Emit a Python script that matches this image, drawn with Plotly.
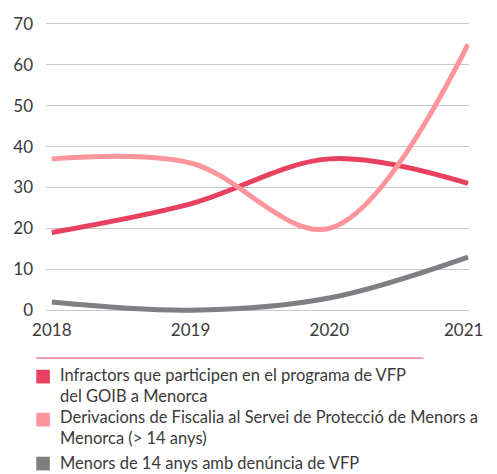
import plotly.graph_objects as go

years = [2018, 2019, 2020, 2021]
infractors = [19, 26, 37, 31]
derivacions = [37, 36, 20, 65]
menors = [2, 0, 3, 13]

series_names = [
    "Infractors que participen en el programa de VFP<br>del GOIB a Menorca",
    "Derivacions de Fiscalia al Servei de Protecció de Menors a<br>Menorca (> 14 anys)",
    "Menors de 14 anys amb denúncia de VFP",
]
series_values = [infractors, derivacions, menors]
colors = ["#E8405F", "#FE959C", "#7E7E83"]

y_ticks = [0, 10, 20, 30, 40, 50, 60, 70]
x_ticks = years
x_ticktext = ["2018", "2019", "2020", "2021&nbsp;&nbsp;"]

# page body has an 8px margin; figure is sized to fill the rest
OFF = 8
W, H = 497 - OFF, 474 - OFF
ML, MR, MT, MB = 38, 16, 5, 156
PW, PH = W - ML - MR, H - MT - MB

def px_x(px):
    return (px - OFF - ML) / PW

def px_y(py):
    return (H - MB - (py - OFF)) / PH

fig = go.Figure()
for name, vals, col in zip(series_names, series_values, colors):
    fig.add_trace(go.Scatter(
        x=years, y=vals, mode="lines", name=name.replace("<br>", " "),
        line=dict(color=col, width=5, shape="spline", smoothing=1.0),
        showlegend=False,
    ))

font_fam = "Lato, 'Open Sans', sans-serif"
text_col = "#3a3a3a"

shapes = [dict(type="line", xref="paper", yref="paper",
               x0=px_x(36), x1=px_x(434), y0=px_y(359), y1=px_y(359),
               line=dict(color="#E8405F", width=1))]
annotations = []
text_centers = [387, 430, 466]
sq_tops = [371, 415, 460]
for txt, col, c, st in zip(series_names, colors, text_centers, sq_tops):
    shapes.append(dict(type="rect", xref="paper", yref="paper",
                       x0=px_x(36), x1=px_x(50), y0=px_y(st), y1=px_y(st + 14),
                       fillcolor=col, line=dict(width=0)))
    annotations.append(dict(xref="paper", yref="paper", x=px_x(58), y=px_y(c),
                            xanchor="left", yanchor="middle", align="left",
                            text=txt, showarrow=False,
                            font=dict(family=font_fam, size=16.5, color=text_col)))

fig.update_layout(
    width=W, height=H,
    margin=dict(l=ML, r=MR, t=MT, b=MB),
    paper_bgcolor="white", plot_bgcolor="white",
    font=dict(family=font_fam, size=17, color=text_col),
    xaxis=dict(range=[2017.958, 2021.007], tickvals=x_ticks, ticktext=x_ticktext,
               showgrid=False, zeroline=False, showline=False, ticks="",
               ticklabeloverflow="allow"),
    yaxis=dict(range=[-1.91, 70.96], tickvals=y_ticks, showgrid=True, gridcolor="#c8c8c8",
               gridwidth=1, zeroline=False, showline=False, ticks="",
               ticklabelstandoff=12, ticklabeloverflow="allow"),
    shapes=shapes,
    annotations=annotations,
)

fig.write_html("out.html")
